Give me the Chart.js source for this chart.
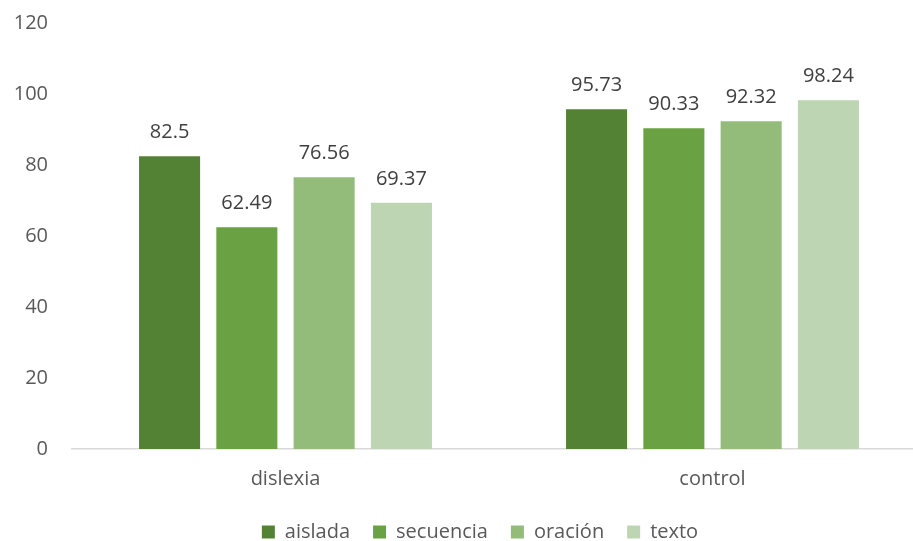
<!DOCTYPE html>
<html>
<head>
<meta charset="utf-8">
<script src="https://cdn.jsdelivr.net/npm/chart.js@4/dist/chart.umd.min.js"></script>
<style>
  html, body { margin: 0; padding: 0; background: #fff; overflow: hidden; }
  #wrap { width: 913px; height: 541px; overflow: hidden; }
</style>
</head>
<body>
<div id="wrap"><canvas id="chart" width="960" height="552"></canvas></div>
<script>
// datos
const categorias = ['dislexia', 'control'];
const series = ['aislada', 'secuencia', 'oración', 'texto'];
const aislada = [82.5, 95.73];
const secuencia = [62.49, 90.33];
const oracion = [76.56, 92.32];
const texto = [69.37, 98.24];
const ticksY = [0, 20, 40, 60, 80, 100, 120];

const colores = ['#548235', '#6AA142', '#93BC7B', '#BED5B3'];
const valores = [aislada, secuencia, oracion, texto];
const fuente = "'Open Sans', 'Liberation Sans', sans-serif";

// etiquetas encima de cada barra
const etiquetas = {
  id: 'etiquetas',
  afterDatasetsDraw(chart) {
    const ctx = chart.ctx;
    ctx.save();
    ctx.font = '20px ' + fuente;
    ctx.fillStyle = '#404040';
    ctx.textAlign = 'center';
    ctx.textBaseline = 'alphabetic';
    chart.data.datasets.forEach((ds, i) => {
      chart.getDatasetMeta(i).data.forEach((bar, j) => {
        ctx.fillText(String(ds.data[j]), bar.x, bar.y - 18);
      });
    });
    ctx.restore();
  }
};

// la leyenda va centrada un poco más a la derecha
const moverLeyenda = {
  id: 'moverLeyenda',
  afterLayout(chart) {
    if (chart.legend) {
      chart.legend.left += 34;
      chart.legend.adjustHitBoxes();
    }
  }
};

new Chart(document.getElementById('chart'), {
  type: 'bar',
  data: {
    labels: categorias,
    datasets: series.map((s, i) => ({
      label: s,
      data: valores[i],
      backgroundColor: colores[i],
      borderWidth: 0,
      categoryPercentage: 0.724,
      barPercentage: 0.79
    }))
  },
  options: {
    responsive: false,
    animation: false,
    devicePixelRatio: 1,
    layout: { padding: { left: 0, right: 34, top: 23, bottom: 0 } },
    plugins: {
      legend: {
        position: 'bottom',
        labels: {
          boxWidth: 13,
          boxHeight: 13,
          padding: 23,
          color: '#595959',
          font: { family: fuente, size: 20 }
        }
      },
      tooltip: { enabled: false }
    },
    scales: {
      x: {
        grid: { display: false },
        border: { display: true, color: '#D9D9D9', width: 1.5 },
        ticks: {
          color: '#595959',
          padding: 10,
          font: { family: fuente, size: 20 }
        },
        afterFit: (scale) => { scale.height -= 2; }
      },
      y: {
        min: 0,
        max: 120,
        afterBuildTicks: (scale) => { scale.ticks = ticksY.map(v => ({ value: v })); },
        afterFit: (scale) => {
          scale.width = 72;
          scale.paddingTop = 0;
          scale.paddingBottom = 0;
        },
        grid: { display: false, drawTicks: false },
        border: { display: false },
        ticks: {
          color: '#595959',
          padding: 24,
          font: { family: fuente, size: 20 }
        }
      }
    }
  },
  plugins: [etiquetas, moverLeyenda]
});
</script>
</body>
</html>
